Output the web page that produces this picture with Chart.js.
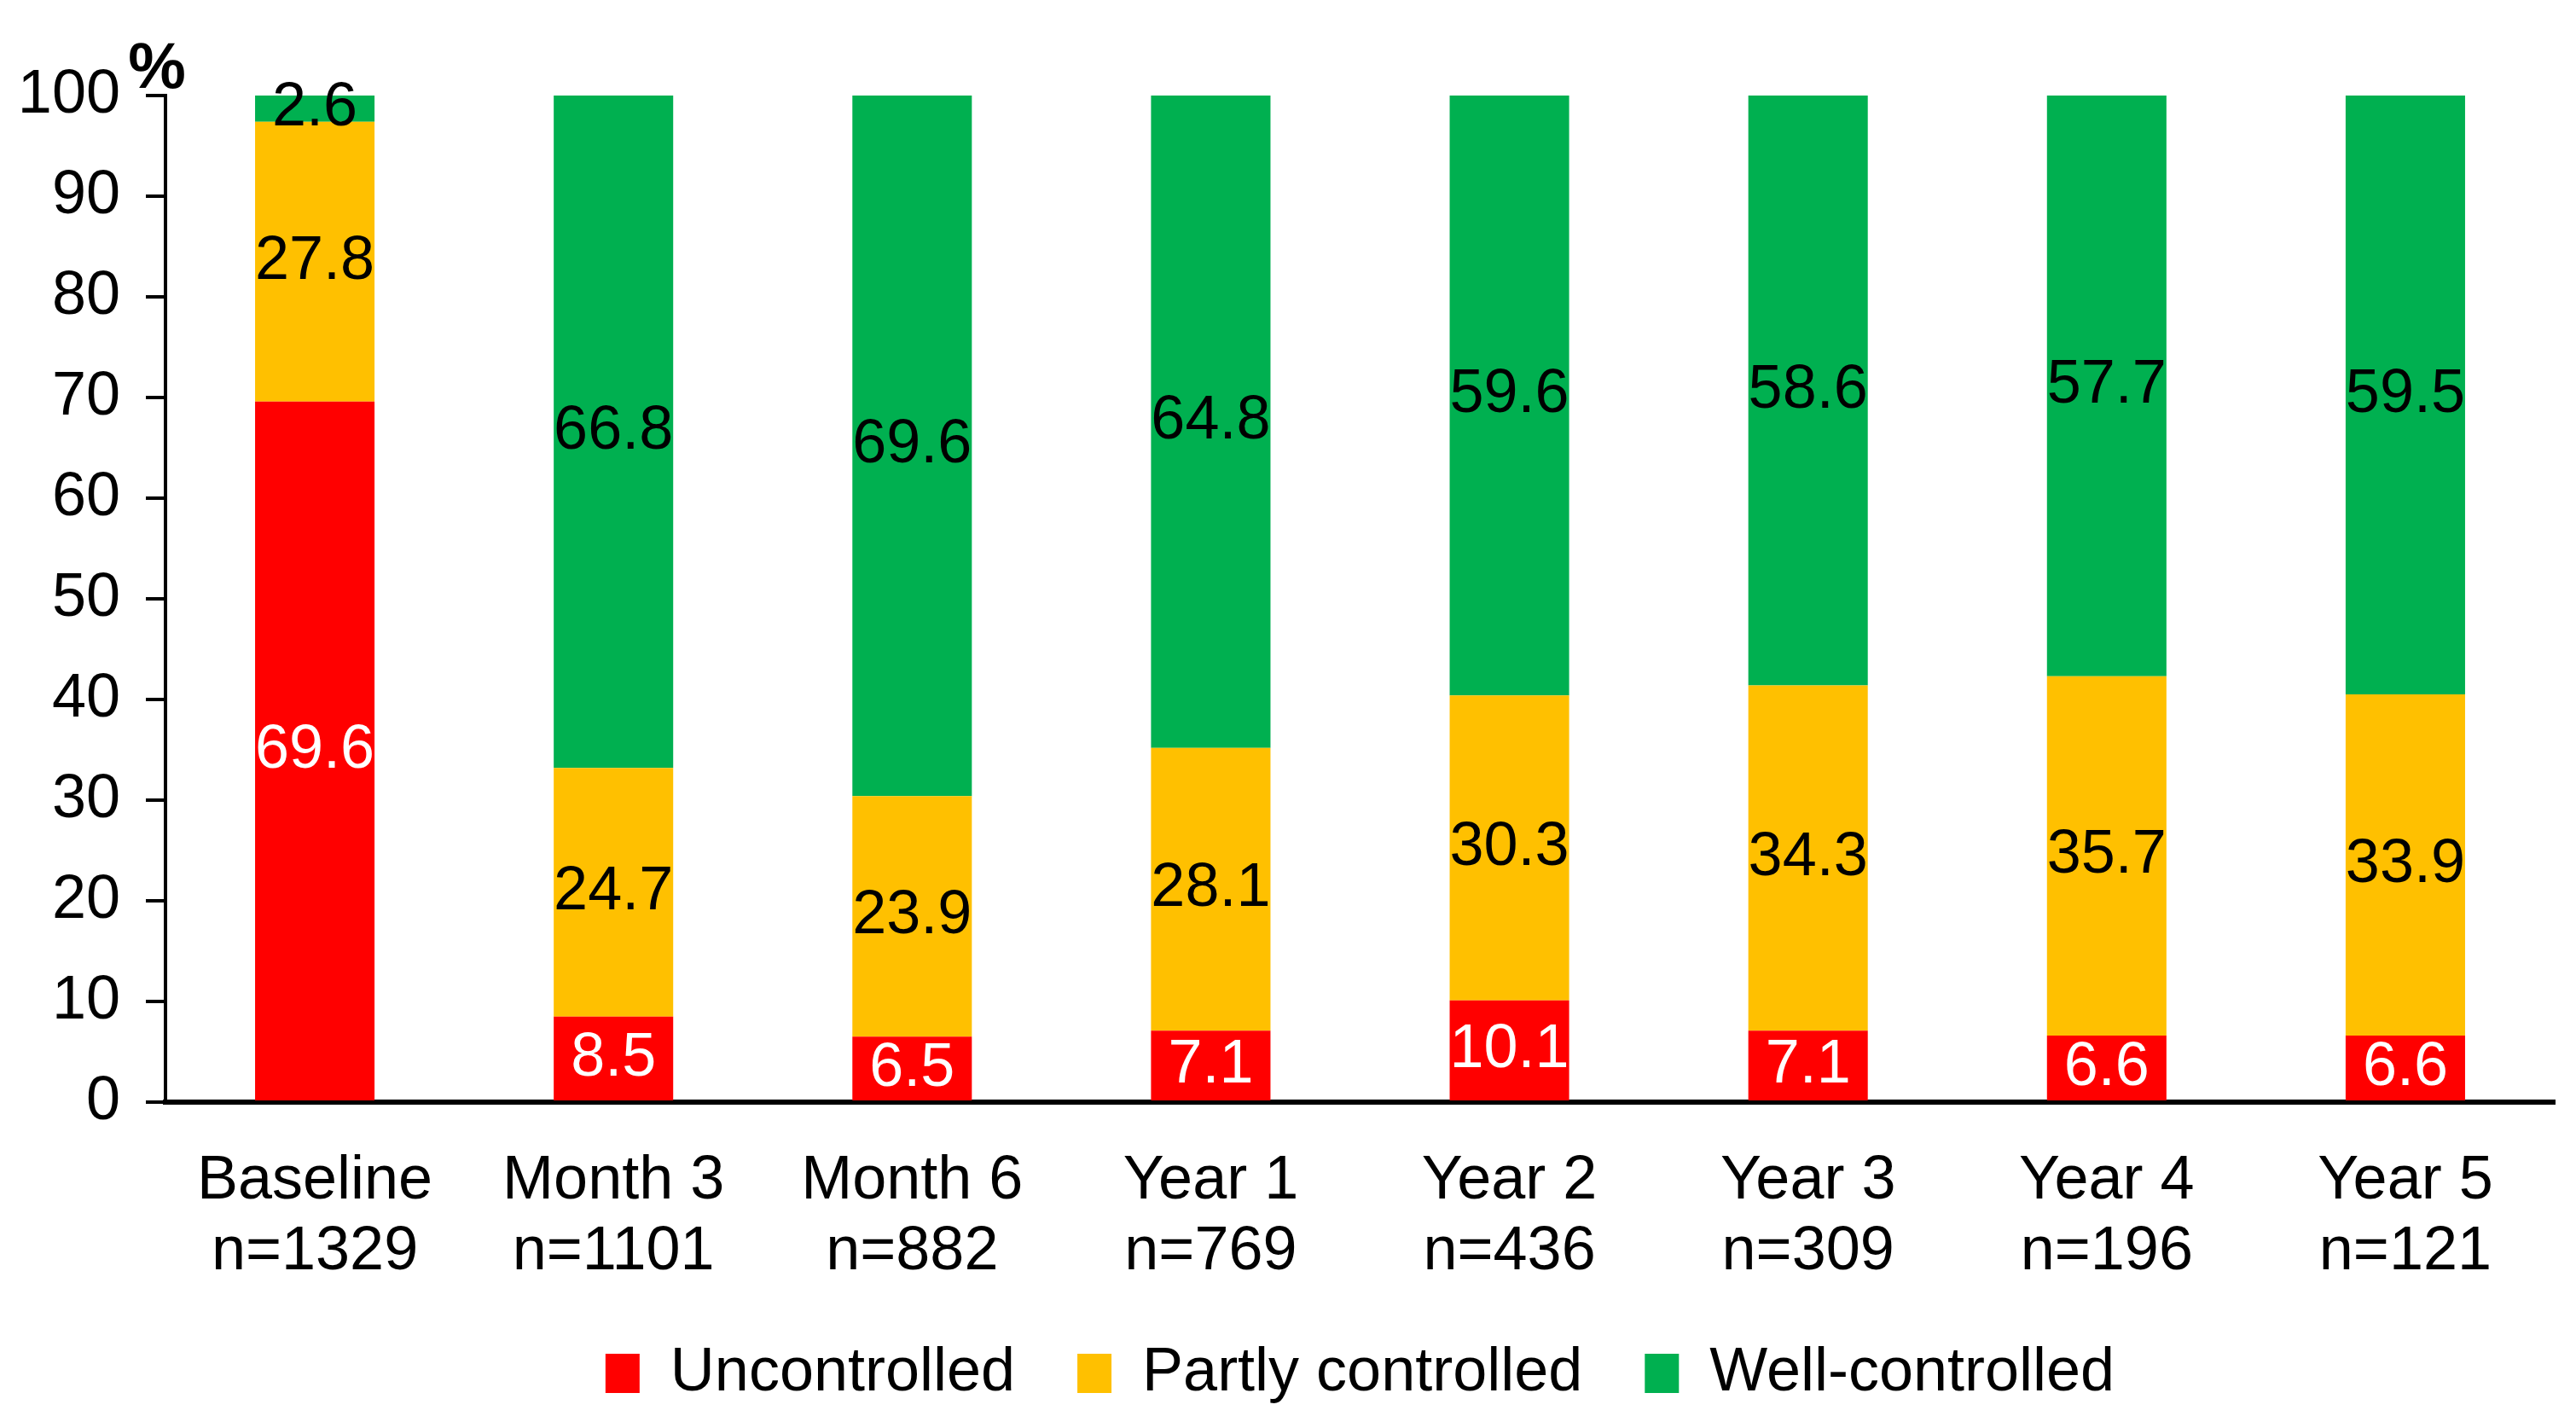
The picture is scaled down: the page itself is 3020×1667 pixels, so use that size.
<!DOCTYPE html>
<html>
<head>
<meta charset="utf-8">
<script src="https://cdn.jsdelivr.net/npm/chart.js@4.4.1/dist/chart.umd.min.js"></script>
<style>
  html, body { margin: 0; padding: 0; background: #fff; }
  #wrap { width: 3020px; height: 1667px; }
</style>
</head>
<body>
<div id="wrap"><canvas id="myChart"></canvas></div>
<script>
const categories = [
    ['Baseline', 'n=1329'],
    ['Month 3', 'n=1101'],
    ['Month 6', 'n=882'],
    ['Year 1', 'n=769'],
    ['Year 2', 'n=436'],
    ['Year 3', 'n=309'],
    ['Year 4', 'n=196'],
    ['Year 5', 'n=121']
];
const uncontrolled = [69.6, 8.5, 6.5, 7.1, 10.1, 7.1, 6.6, 6.6];
const partlyControlled = [27.8, 24.7, 23.9, 28.1, 30.3, 34.3, 35.7, 33.9];
const wellControlled = [2.6, 66.8, 69.6, 64.8, 59.6, 58.6, 57.7, 59.5];
const yTicks = [0, 10, 20, 30, 40, 50, 60, 70, 80, 90, 100];

Chart.defaults.font.family = "'Liberation Sans', Arial, sans-serif";
Chart.defaults.color = '#000';

// value written in the middle of each segment
const valueLabels = {
    id: 'valueLabels',
    afterDatasetsDraw(chart) {
        const ctx = chart.ctx;
        ctx.save();
        ctx.font = "72px 'Liberation Sans', Arial, sans-serif";
        ctx.textAlign = 'center';
        ctx.textBaseline = 'middle';
        chart.data.datasets.forEach(function (ds, i) {
            chart.getDatasetMeta(i).data.forEach(function (bar, j) {
                const p = bar.getProps(['x', 'y', 'base'], true);
                ctx.fillStyle = i === 0 ? '#fff' : '#000';
                ctx.fillText(ds.data[j].toFixed(1), p.x, (p.y + p.base) / 2);
            });
        });
        ctx.restore();
    }
};

// the "%" sign at the top of the y axis
const percentSign = {
    id: 'percentSign',
    afterDraw(chart) {
        const ctx = chart.ctx;
        const area = chart.chartArea;
        ctx.save();
        ctx.font = "bold 76px 'Liberation Sans', Arial, sans-serif";
        ctx.textAlign = 'center';
        ctx.textBaseline = 'middle';
        ctx.fillStyle = '#000';
        ctx.fillText('%', area.left - 10, area.top - 30);
        ctx.restore();
    }
};

const ctx = document.getElementById('myChart');
new Chart(ctx, {
    type: 'bar',
    data: {
        labels: categories,
        datasets: [
            { label: 'Uncontrolled', data: uncontrolled, backgroundColor: '#FF0000' },
            { label: 'Partly controlled', data: partlyControlled, backgroundColor: '#FFC000' },
            { label: 'Well-controlled', data: wellControlled, backgroundColor: '#00B050' }
        ]
    },
    options: {
        responsive: true,
        maintainAspectRatio: false,
        devicePixelRatio: 1,
        animation: false,
        layout: {
            padding: { top: 112, left: 0, right: 25, bottom: 11 }
        },
        datasets: {
            bar: { barPercentage: 0.4, categoryPercentage: 1.0, borderWidth: 0 }
        },
        scales: {
            x: {
                stacked: true,
                grid: { display: false },
                border: { display: true, color: '#000', width: 6 },
                ticks: {
                    font: { size: 72, lineHeight: 1.15 },
                    padding: 44,
                    maxRotation: 0,
                    autoSkip: false
                },
                afterFit: function (scale) { scale.height = 209; }
            },
            y: {
                stacked: true,
                min: 0,
                max: 100,
                afterBuildTicks: function (scale) {
                    scale.ticks = yTicks.map(function (v) { return { value: v }; });
                },
                grid: {
                    drawOnChartArea: false,
                    drawTicks: true,
                    tickLength: 23,
                    color: '#000',
                    lineWidth: 4
                },
                border: { display: true, color: '#000', width: 4 },
                ticks: {
                    font: { size: 72 },
                    padding: 30
                },
                afterFit: function (scale) { scale.width = 194; }
            }
        },
        plugins: {
            legend: {
                position: 'bottom',
                fullSize: false,
                labels: {
                    font: { size: 72 },
                    boxWidth: 40,
                    boxHeight: 46,
                    padding: 73,
                    color: '#000'
                }
            },
            tooltip: { enabled: false }
        }
    },
    plugins: [valueLabels, percentSign]
});
</script>
</body>
</html>
